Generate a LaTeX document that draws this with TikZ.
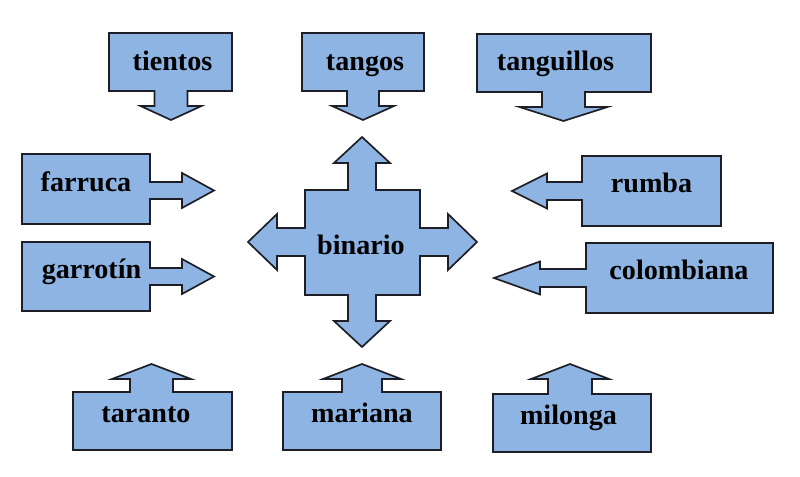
\documentclass[tikz,border=0pt]{standalone}
\usepackage{fontspec}
\setmainfont{Liberation Serif}
\definecolor{cajaazul}{RGB}{141,180,227}
\definecolor{borde}{RGB}{30,30,38}
\begin{document}
\begin{tikzpicture}[x=0.025cm,y=-0.025cm,line width=1.2pt,
		caja/.style={fill=cajaazul,draw=borde},
		palo/.style={anchor=base,font=\bfseries\fontsize{20}{24}\selectfont}]
			\useasboundingbox (0,0) rectangle (800,477);
			% fila de arriba: flechas hacia abajo
			\foreach \n/\xl/\xr/\yt/\yb/\xc/\ws/\wh/\hb/\tp/\tx/\ty/\txt in 
			{
				tientos/109/232/33/91/171/16.5/30.5/106/120/172.5/71/tientos,
				tangos/302/424/33/91/363/16/31/106/120/365/71/tangos,
				tanguillos/477/651/34/92/563.5/21.5/44/107/121/555.5/71/tanguillos}
			{\draw[caja] (\xl,\yt)--(\xr,\yt)--(\xr,\yb)--(\xc+\ws,\yb)--(\xc+\ws,\hb)--(\xc+\wh,\hb)--(\xc,\tp)
				--(\xc-\wh,\hb)--(\xc-\ws,\hb)--(\xc-\ws,\yb)--(\xl,\yb)--cycle;
			\node[palo] (\n) at (\tx,\ty) {\txt};}
			% izquierda: flechas hacia la derecha
			\foreach \n/\xl/\xr/\yt/\yb/\yc/\ws/\wh/\hb/\tp/\tx/\ty/\txt in 
			{
				farruca/22/150/154/224/190.5/8.5/17.5/182/214/86/192/farruca,
				garrotin/22/150/242/311/276.5/8.5/17.5/182/214/91.5/279/garrotín}
			{\draw[caja] (\xl,\yt)--(\xr,\yt)--(\xr,\yc-\ws)--(\hb,\yc-\ws)--(\hb,\yc-\wh)--(\tp,\yc)
				--(\hb,\yc+\wh)--(\hb,\yc+\ws)--(\xr,\yc+\ws)--(\xr,\yb)--(\xl,\yb)--cycle;
			\node[palo] (\n) at (\tx,\ty) {\txt};}
			% derecha: flechas hacia la izquierda
			\foreach \n/\xl/\xr/\yt/\yb/\yc/\ws/\wh/\hb/\tp/\tx/\ty/\txt in 
			{
				rumba/582/721/156/226/191/9/17.5/547/512/651.5/193/rumba,
				colombiana/586/773/243/313/278/9/16.5/540/494/679/280/colombiana}
			{\draw[caja] (\xr,\yt)--(\xl,\yt)--(\xl,\yc-\ws)--(\hb,\yc-\ws)--(\hb,\yc-\wh)--(\tp,\yc)
				--(\hb,\yc+\wh)--(\hb,\yc+\ws)--(\xl,\yc+\ws)--(\xl,\yb)--(\xr,\yb)--cycle;
			\node[palo] (\n) at (\tx,\ty) {\txt};}
			% fila de abajo: flechas hacia arriba
			\foreach \n/\xl/\xr/\yt/\yb/\xc/\ws/\wh/\hb/\tp/\tx/\ty/\txt in 
			{
				taranto/73/232/392/450/151.5/21.5/39.5/379/364/146/422/taranto,
				mariana/283/441/392/450/362/20/39/379/364/362/422/mariana,
				milonga/493/651/394/452/570/22/39/379/364/568.5/424/milonga}
			{\draw[caja] (\xl,\yb)--(\xl,\yt)--(\xc-\ws,\yt)--(\xc-\ws,\hb)--(\xc-\wh,\hb)--(\xc,\tp)
				--(\xc+\wh,\hb)--(\xc+\ws,\hb)--(\xc+\ws,\yt)--(\xr,\yt)--(\xr,\yb)--cycle;
			\node[palo] (\n) at (\tx,\ty) {\txt};}
			% la cruz del centro
			\draw[caja]
			(305,190)--(348,190)--(348,163)--(334,163)--(362,137)--(390,163)--(376,163)--(376,190)
			--(420,190)--(420,228)--(448,228)--(448,214)--(477,242)--(448,270)--(448,256)--(420,256)
			--(420,295)--(376,295)--(376,321)--(390,321)--(362,347)--(334,321)--(348,321)--(348,295)
			--(305,295)--(305,256)--(277,256)--(277,270)--(248,242)--(277,214)--(277,228)--(305,228)--cycle
			;
			\node[palo] (binario) at (361,255) {binario};
		\end{tikzpicture}
\end{document}
